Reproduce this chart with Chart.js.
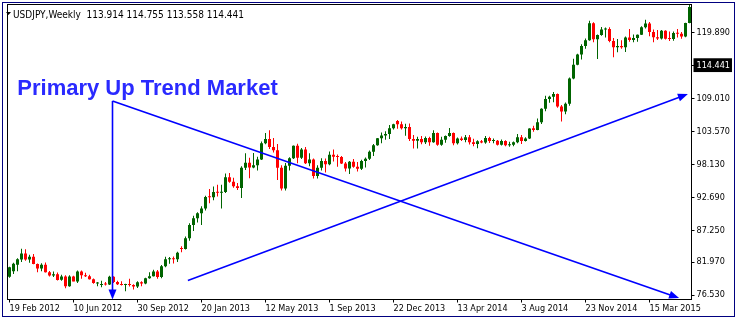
<!DOCTYPE html>
<html><head><meta charset="utf-8">
<script src="https://cdn.jsdelivr.net/npm/chart.js@4.4.1/dist/chart.umd.min.js"></script>
<style>html,body{margin:0;padding:0;background:#fff;overflow:hidden}</style>
</head><body><canvas id="c" width="737" height="321"></canvas>
<script>
// ---- data (USDJPY weekly) ----
const startWeek = '2012-02-19';
const opens = [79.55,80.45,81.55,82.40,83.40,82.40,82.85,81.65,80.90,81.55,80.30,79.75,79.95,79.05,79.60,78.00,79.60,78.75,80.40,79.80,79.65,79.15,78.45,78.20,78.35,78.25,79.55,78.70,78.30,78.20,78.35,78.20,77.95,78.65,78.45,79.30,79.65,80.40,79.50,81.30,82.45,82.50,82.45,84.30,84.15,85.90,
88.10,89.20,90.05,90.85,92.75,92.70,93.55,93.45,93.55,96.00,95.25,94.50,94.20,97.55,98.40,97.60,98.00,98.95,101.60,102.30,101.00,100.45,97.55,94.15,97.90,99.15,101.20,99.20,100.60,98.30,98.95,96.20,97.55,98.70,98.15,99.70,99.40,99.35,98.25,97.45,98.55,97.75,97.40,98.70,99.05,100.20,101.30,102.45,102.90,103.15,104.10,105.30,
104.75,104.10,104.30,102.30,102.05,102.30,101.80,102.50,101.80,103.30,101.35,102.20,102.80,103.30,101.60,102.40,102.15,102.60,101.80,101.50,101.95,101.75,102.50,102.00,102.05,101.35,102.00,101.30,101.35,101.80,102.60,102.00,102.40,104.10,103.80,105.10,107.30,108.95,109.30,109.75,107.70,106.85,108.15,112.30,114.60,116.30,117.70,118.65,121.45,118.80,119.50,120.40,
120.50,118.50,117.50,117.70,117.50,119.10,118.70,119.00,119.55,120.80,121.40,120.00,119.15,118.95,120.20,118.90,118.85,119.85,119.70,119.25,121.50];
const highs = [81.20,81.87,82.60,84.18,84.10,83.18,83.30,81.75,81.80,81.90,80.50,80.40,80.25,79.90,79.80,79.80,79.70,80.60,80.60,80.20,79.90,79.25,78.70,78.90,78.70,79.70,79.65,78.90,78.80,78.40,79.20,78.30,78.80,78.80,79.40,80.30,80.70,80.65,81.50,82.85,82.80,82.90,83.70,84.60,86.20,88.40,
89.65,90.20,91.20,92.95,94.05,94.45,94.75,94.75,96.60,96.70,95.90,95.05,97.80,99.95,99.20,100.00,99.40,101.90,103.30,103.75,102.50,101.50,98.00,98.35,99.30,101.25,101.55,100.85,101.00,99.95,99.10,98.00,99.15,99.10,100.25,100.60,99.75,99.50,98.50,98.70,99.00,98.50,98.90,99.25,100.40,101.50,102.50,103.40,103.60,104.65,104.85,105.45,
105.20,104.85,104.90,103.00,102.70,102.80,102.75,102.70,103.75,103.40,102.70,102.90,104.15,103.40,102.55,102.75,103.00,103.00,102.35,102.10,102.15,102.80,102.70,102.40,102.15,102.25,102.10,101.85,101.90,103.15,103.00,102.60,104.10,104.50,105.70,107.40,109.45,109.45,110.10,109.85,107.95,108.35,112.50,115.60,116.40,118.00,118.95,121.85,121.60,119.60,120.85,120.75,
120.80,119.00,118.85,118.65,119.25,120.50,119.60,119.60,120.95,122.05,121.65,120.40,120.35,120.35,120.30,120.10,120.10,120.50,120.00,121.55,124.45];
const lows = [79.40,80.00,80.45,82.00,82.20,81.85,81.60,80.30,80.45,80.25,79.60,79.50,78.95,78.90,77.65,77.90,78.80,78.50,79.20,79.50,79.10,78.40,78.00,77.80,78.10,78.20,78.50,78.20,78.10,77.15,77.95,77.45,77.70,78.00,78.30,79.20,79.60,79.20,79.30,81.10,81.70,81.75,82.00,83.60,84.05,85.50,
87.10,88.50,88.10,90.50,91.70,92.20,92.80,90.85,93.40,95.10,94.25,93.90,92.55,97.20,95.85,97.50,97.10,98.85,101.45,100.65,100.10,95.55,93.80,93.80,97.10,99.00,98.30,99.00,98.20,97.80,95.80,95.80,97.10,96.80,98.00,98.60,97.75,98.20,96.95,96.55,97.55,96.95,97.20,97.60,98.85,99.50,101.20,101.60,102.20,102.30,103.90,104.00,
103.90,102.85,102.00,100.75,100.75,101.45,101.50,101.20,101.70,101.20,101.20,101.70,102.70,101.30,101.40,102.00,101.80,101.40,101.10,100.80,101.60,101.55,101.65,101.60,101.25,101.25,101.10,101.05,101.10,101.60,101.50,101.90,102.30,103.50,103.75,104.80,106.90,108.30,108.40,107.50,105.20,106.40,107.80,112.20,114.50,115.45,117.25,118.55,118.30,115.55,119.40,119.10,
118.30,115.85,116.65,117.25,116.70,118.40,118.30,118.40,119.50,120.60,119.30,118.30,118.70,118.75,118.75,118.50,118.55,119.10,118.90,119.15,121.45];
const closes = [81.10,81.70,82.45,83.40,82.40,82.85,81.65,80.90,81.55,80.30,79.75,79.95,79.00,79.60,78.00,79.60,78.75,80.40,79.80,79.65,79.15,78.50,78.52,78.30,78.25,79.55,78.70,78.30,78.20,78.35,78.20,77.95,78.65,78.45,79.30,79.65,80.40,79.50,81.30,82.45,82.50,82.45,83.50,84.15,85.90,88.10,
89.20,90.05,90.85,92.75,92.70,93.55,93.45,93.55,96.00,95.25,94.50,94.20,97.55,98.40,97.60,98.00,98.95,101.60,102.30,101.00,100.45,97.55,94.15,97.90,99.15,101.20,99.20,100.60,98.30,98.95,96.20,97.55,98.70,98.15,99.70,99.40,99.35,98.25,97.45,98.55,97.75,97.40,98.70,99.05,100.20,101.30,102.45,102.90,103.15,104.10,104.75,104.75,
104.10,104.30,102.30,102.05,102.30,101.80,102.50,101.80,103.30,101.35,102.20,102.80,103.30,101.60,102.40,102.15,102.60,101.80,101.50,101.95,101.75,102.50,102.00,102.05,101.35,102.00,101.30,101.35,101.80,102.60,102.00,102.40,104.05,103.80,105.10,107.30,108.95,109.30,109.75,107.70,106.85,108.15,112.30,114.60,116.30,117.70,118.65,121.45,118.80,119.50,120.40,120.50,
118.50,117.50,117.70,117.50,119.10,118.70,119.00,119.55,120.80,121.40,120.00,119.15,118.95,120.20,118.90,118.85,119.85,119.70,119.25,121.50,124.15];

const tickEvery = 16;
const xTickLabels = ['19 Feb 2012','10 Jun 2012','30 Sep 2012','20 Jan 2013','12 May 2013','1 Sep 2013','22 Dec 2013','13 Apr 2014','3 Aug 2014','23 Nov 2014','15 Mar 2015'];
const yTickValues = [76.53, 81.97, 87.25, 92.69, 98.13, 103.57, 109.01, 114.441, 119.89];
const yMin = 75.79, yMax = 124.55;
const lastPrice = 114.441;
const headerText = 'USDJPY,Weekly  113.914 114.755 113.558 114.441';
const annotationText = 'Primary Up Trend Market';
const textAnchor = [1.95, 109.59];          // [bar index, price]
const arrowLines = [                         // [bar index, price] -> [bar index, price]
  [[25.75, 108.60], [25.75, 75.80]],
  [[25.75, 108.60], [167.4, 76.03]],
  [[44.6, 78.93], [169.6, 109.76]]
];

// ---- categories (weekly dates) ----
const MON = ['Jan','Feb','Mar','Apr','May','Jun','Jul','Aug','Sep','Oct','Nov','Dec'];
const weeks = opens.map((_, i) => {
  const d = new Date(startWeek + 'T00:00:00Z');
  d.setUTCDate(d.getUTCDate() + 7 * i);
  return d.getUTCDate() + ' ' + MON[d.getUTCMonth()] + ' ' + d.getUTCFullYear();
});

const UP = '#006400', DOWN = '#ff0000';
const colorFor = (i) => closes[i] >= opens[i] ? UP : DOWN;
const FAMILY = '"DejaVu Sans Condensed", "DejaVu Sans", sans-serif';
const AXIS_FONT = { family: FAMILY, size: 9 };

const overlay = {
  id: 'overlay',
  afterDraw(chart) {
    const { ctx, chartArea: a, scales: { x, y } } = chart;
    ctx.save();
    // plot frame
    ctx.strokeStyle = '#000'; ctx.lineWidth = 1;
    ctx.strokeRect(a.left, a.top, a.right - a.left, a.bottom - a.top);
    // window frame
    ctx.strokeStyle = '#000080';
    ctx.strokeRect(2.5, 2.5, 732, 314);
    // header
    ctx.fillStyle = '#000';
    ctx.beginPath(); ctx.moveTo(6, 12); ctx.lineTo(11, 12); ctx.lineTo(8.5, 15); ctx.closePath(); ctx.fill();
    ctx.font = '10px ' + FAMILY;
    ctx.textBaseline = 'alphabetic'; ctx.textAlign = 'left';
    ctx.fillText(headerText, 13, 18);
    // arrows
    ctx.strokeStyle = '#0000ff'; ctx.fillStyle = '#0000ff'; ctx.lineWidth = 1.6;
    arrowLines.forEach(([p, q]) => {
      const x1 = x.getPixelForValue(p[0]), y1 = y.getPixelForValue(p[1]);
      const x2 = x.getPixelForValue(q[0]), y2 = y.getPixelForValue(q[1]);
      const L = Math.hypot(x2 - x1, y2 - y1), ux = (x2 - x1) / L, uy = (y2 - y1) / L;
      const len = 10, hw = 4;
      ctx.beginPath(); ctx.moveTo(x1, y1); ctx.lineTo(x2 - ux * len * 0.7, y2 - uy * len * 0.7); ctx.stroke();
      ctx.beginPath();
      ctx.moveTo(x2, y2);
      ctx.lineTo(x2 - ux * len - uy * hw, y2 - uy * len + ux * hw);
      ctx.lineTo(x2 - ux * len + uy * hw, y2 - uy * len - ux * hw);
      ctx.closePath(); ctx.fill();
    });
    // annotation text
    ctx.fillStyle = '#2a2aff';
    ctx.font = 'bold 22px "Liberation Sans", Arial, sans-serif';
    ctx.fillText(annotationText, x.getPixelForValue(textAnchor[0]), y.getPixelForValue(textAnchor[1]));
    ctx.restore();
  }
};

new Chart(document.getElementById('c'), {
  type: 'bar',
  data: {
    labels: weeks,
    datasets: [
      { label: 'body', data: opens.map((o, i) => [o, closes[i]]), backgroundColor: (c) => colorFor(c.dataIndex),
        barThickness: 3, minBarLength: 1, grouped: false, borderWidth: 0, inflateAmount: 0, order: 0 },
      { label: 'wick', data: lows.map((l, i) => [l, highs[i]]), backgroundColor: (c) => colorFor(c.dataIndex),
        barThickness: 1, grouped: false, borderWidth: 0, inflateAmount: 0, order: 1 }
    ]
  },
  options: {
    responsive: false, animation: false, devicePixelRatio: 1, events: [],
    layout: { padding: { left: 7.5, top: 4.5, right: 0, bottom: 0 } },
    plugins: { legend: { display: false }, tooltip: { enabled: false } },
    scales: {
      x: {
        type: 'category', offset: true,
        grid: { display: true, drawOnChartArea: false, drawTicks: true, tickLength: 3, color: '#000', offset: false },
        border: { display: false },
        ticks: { autoSkip: false, maxRotation: 0, minRotation: 0, align: 'start', padding: 1, color: '#000', font: AXIS_FONT,
          callback: (v) => xTickLabels[v / tickEvery] },
        afterBuildTicks: (s) => { s.ticks = s.ticks.filter(t => t.value % tickEvery === 0); },
        afterFit: (s) => { s.height = 321 - 299.5; s.paddingLeft = 0; s.paddingRight = 0; }
      },
      y: {
        type: 'linear', position: 'right', min: yMin, max: yMax,
        grid: { display: true, drawOnChartArea: false, drawTicks: true, tickLength: 3, color: '#000' },
        border: { display: false },
        ticks: { padding: 2, color: (c) => (c.tick && c.tick.value === lastPrice) ? '#fff' : '#000', font: AXIS_FONT,
          showLabelBackdrop: (c) => !!(c.tick && c.tick.value === lastPrice), backdropColor: '#000',
          backdropPadding: { top: 2, bottom: 1, left: 3, right: 2 },
          callback: (v) => Number(v).toFixed(3) },
        afterBuildTicks: (s) => { s.ticks = yTickValues.map(v => ({ value: v })); },
        afterFit: (s) => { s.width = 737 - 691.5; s.paddingTop = 0; s.paddingBottom = 0; }
      }
    }
  },
  plugins: [overlay]
});
</script>
</body></html>
